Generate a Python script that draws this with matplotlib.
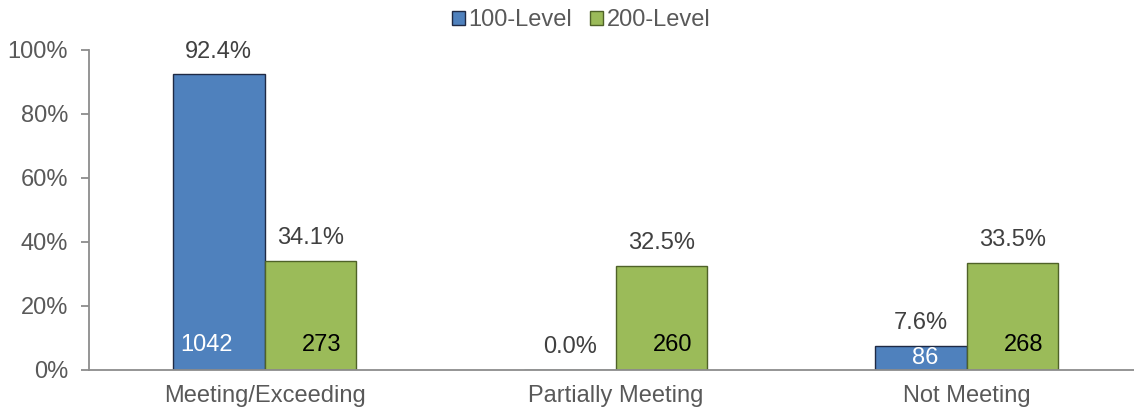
import matplotlib
matplotlib.use("Agg")
import matplotlib.pyplot as plt
import numpy as np

categories = ["Meeting/Exceeding", "Partially Meeting", "Not Meeting"]
series_names = ["100-Level", "200-Level"]
pct_100 = [92.4, 0.0, 7.6]
pct_200 = [34.1, 32.5, 33.5]
n_100 = [1042, 0, 86]
n_200 = [273, 260, 268]
y_ticks = [0, 20, 40, 60, 80, 100]

plt.rcParams['font.family'] = ['Liberation Sans', 'DejaVu Sans']

FS = 17
fig = plt.figure(figsize=(11.34, 4.08), dpi=100)
ax = fig.add_axes([89/1134, 38/408, 1053/1134, 320/408])

x = np.arange(len(categories))
w = 0.26
blue, blue_edge = "#4F81BD", "#1F2A44"
green, green_edge = "#9BBB59", "#4F6228"
txt = "#404040"
grey = "#8C8C8C"

b1 = ax.bar(x - w/2, pct_100, w, color=blue, edgecolor=blue_edge, linewidth=1.0, label=series_names[0])
b2 = ax.bar(x + w/2, pct_200, w, color=green, edgecolor=green_edge, linewidth=1.0, label=series_names[1])


def count_offset(p):
    # inside-base label; short bars get it pulled down to fit
    return 14 if p > 12 else 4


# horizontal nudges (points) for the count labels
dx_100 = [-9, 0, 3]
dx_200 = [8, 8, 8]

for xi, p, n, dx in zip(x - w/2, pct_100, n_100, dx_100):
    ax.annotate(f"{p:.1f}%", (xi, p), xytext=(0, 12), textcoords="offset points",
                ha="center", va="baseline", fontsize=FS, color=txt, annotation_clip=False)
    if n:
        ax.annotate(f"{n}", (xi, 0), xytext=(dx, count_offset(p)), textcoords="offset points",
                    ha="center", va="baseline", fontsize=FS, color="white")
for xi, p, n, dx in zip(x + w/2, pct_200, n_200, dx_200):
    ax.annotate(f"{p:.1f}%", (xi, p), xytext=(0, 12), textcoords="offset points",
                ha="center", va="baseline", fontsize=FS, color=txt, annotation_clip=False)
    ax.annotate(f"{n}", (xi, 0), xytext=(dx, count_offset(p)), textcoords="offset points",
                ha="center", va="baseline", fontsize=FS, color="black")

ax.set_xlim(-0.5, 2.5)
ax.set_ylim(0, 100)
ax.set_yticks(y_ticks)
ax.set_yticklabels([f"{t}%" for t in y_ticks])
ax.set_xticks(x)
ax.set_xticklabels(categories)
ax.tick_params(axis="y", length=6, width=1.3, color=grey, pad=9, labelsize=FS, labelcolor="#595959")
ax.tick_params(axis="x", length=0, pad=11, labelsize=FS, labelcolor="#595959")
for s in ["top", "right"]:
    ax.spines[s].set_visible(False)
for s in ["left", "bottom"]:
    ax.spines[s].set_color(grey)
    ax.spines[s].set_linewidth(1.3)

fig.legend(handles=[b1, b2], labels=series_names, loc="center", bbox_to_anchor=(581/1134, 1 - 20/408),
           ncol=2, frameon=False, fontsize=FS, handlelength=0.55, handleheight=0.55,
           handletextpad=0.15, columnspacing=0.75, labelcolor="#595959", borderpad=0)

fig.savefig("out.png", dpi=100)
